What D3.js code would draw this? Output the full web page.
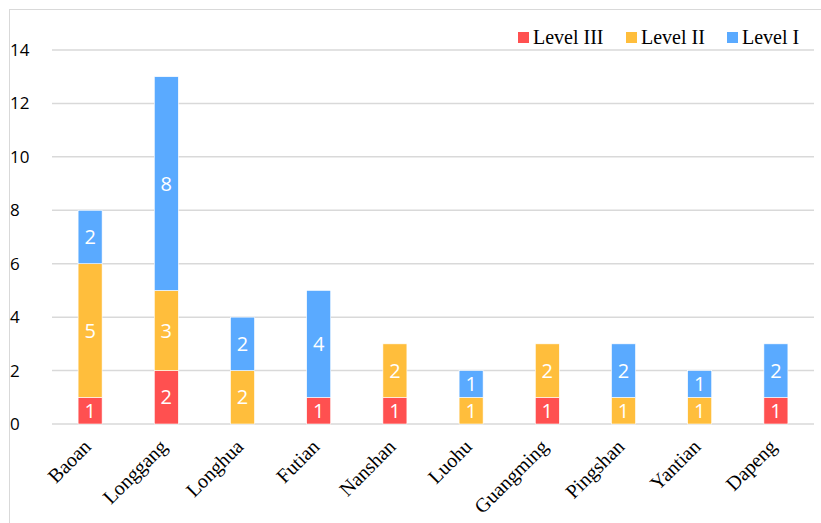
<!DOCTYPE html>
<html>
<head>
<meta charset="utf-8">
<script src="https://cdn.jsdelivr.net/npm/d3@7"></script>
<style>
  body { margin: 0; background: #fff; }
  svg { display: block; }
</style>
</head>
<body>
<svg id="chart" width="821" height="523"></svg>
<script>
// districts and counts per level
const districts = ["Baoan", "Longgang", "Longhua", "Futian", "Nanshan", "Luohu", "Guangming", "Pingshan", "Yantian", "Dapeng"]
const levelIII = [1, 2, 0, 1, 1, 0, 1, 0, 0, 1]
const levelII = [5, 3, 2, 0, 2, 1, 2, 1, 1, 0]
const levelI = [2, 8, 2, 4, 0, 1, 0, 2, 1, 2]
const yTicks = [0, 2, 4, 6, 8, 10, 12, 14]

const keys = ["Level III", "Level II", "Level I"]
const colors = {"Level III": "#FF5050", "Level II": "#FFBE3C", "Level I": "#5AAAFF"}

const rows = districts.map((d, i) => ({
  name: d,
  "Level III": levelIII[i],
  "Level II": levelII[i],
  "Level I": levelI[i]
}))

const svg = d3.select("#chart")

// outer frame
svg.append("rect")
  .attr("x", 9.5).attr("y", 9.5)
  .attr("width", 830).attr("height", 530)
  .attr("fill", "none")
  .attr("stroke", "#d9d9d9")

const margin = {left: 52, right: 7, top: 50, bottom: 99}
const width = 821 - margin.left - margin.right
const height = 523 - margin.top - margin.bottom

const g = svg.append("g").attr("transform", `translate(${margin.left},${margin.top})`)

const x = d3.scaleBand()
  .domain(districts)
  .range([0, width])
  .paddingInner(0.685)
  .paddingOuter(0.3425)

const y = d3.scaleLinear()
  .domain([0, 14])
  .range([height, 0])

// gridlines
g.append("g")
  .selectAll("line")
  .data(yTicks)
  .enter().append("line")
  .attr("x1", 0).attr("x2", width)
  .attr("y1", d => y(d)).attr("y2", d => y(d))
  .attr("stroke", "#d9d9d9")
  .attr("stroke-width", 1.5)

// y axis labels
g.append("g")
  .call(d3.axisLeft(y).tickValues(yTicks).tickSize(0).tickPadding(22))
  .call(a => a.select(".domain").remove())
  .selectAll("text")
  .attr("font-family", "'Open Sans', sans-serif")
  .attr("font-size", 17)
  .attr("fill", "#000")
  .attr("text-anchor", "start")
  .attr("x", -42)

// stacked bars
const stacked = d3.stack().keys(keys)(rows)

const layers = g.selectAll(".layer")
  .data(stacked)
  .enter().append("g")
  .attr("class", "layer")
  .attr("fill", d => colors[d.key])

layers.selectAll("rect")
  .data(d => d.filter(s => s[1] - s[0] > 0))
  .enter().append("rect")
  .attr("x", d => x(d.data.name))
  .attr("width", x.bandwidth())
  .attr("y", d => y(d[1]))
  .attr("height", d => y(d[0]) - y(d[1]))
  .attr("stroke", "#fff")
  .attr("stroke-width", 0.6)

layers.selectAll("text")
  .data(d => d.filter(s => s[1] - s[0] > 0))
  .enter().append("text")
  .attr("x", d => x(d.data.name) + x.bandwidth() / 2)
  .attr("y", d => (y(d[0]) + y(d[1])) / 2)
  .attr("dy", "0.36em")
  .attr("text-anchor", "middle")
  .attr("fill", "#fff")
  .attr("font-family", "'Open Sans', sans-serif")
  .attr("font-size", 20)
  .text(d => d[1] - d[0])

// x axis labels
g.append("g")
  .attr("transform", `translate(0,${height})`)
  .selectAll("text")
  .data(districts)
  .enter().append("text")
  .attr("transform", d => `translate(${x(d) + x.bandwidth() / 2 + 2},${24}) rotate(-45)`)
  .attr("text-anchor", "end")
  .attr("font-family", "'Liberation Serif', 'Times New Roman', serif")
  .attr("font-size", 20)
  .attr("fill", "#000")
  .text(d => d)

// legend
const legendX = [518, 626, 727]
const legend = svg.append("g")
  .selectAll("g")
  .data(keys)
  .enter().append("g")
  .attr("transform", (d, i) => `translate(${legendX[i]},32)`)

legend.append("rect")
  .attr("width", 11).attr("height", 11)
  .attr("fill", d => colors[d])

legend.append("text")
  .attr("x", 15).attr("y", 12)
  .attr("font-family", "'Liberation Serif', 'Times New Roman', serif")
  .attr("font-size", 20)
  .attr("fill", "#000")
  .text(d => d)
</script>
</body>
</html>
